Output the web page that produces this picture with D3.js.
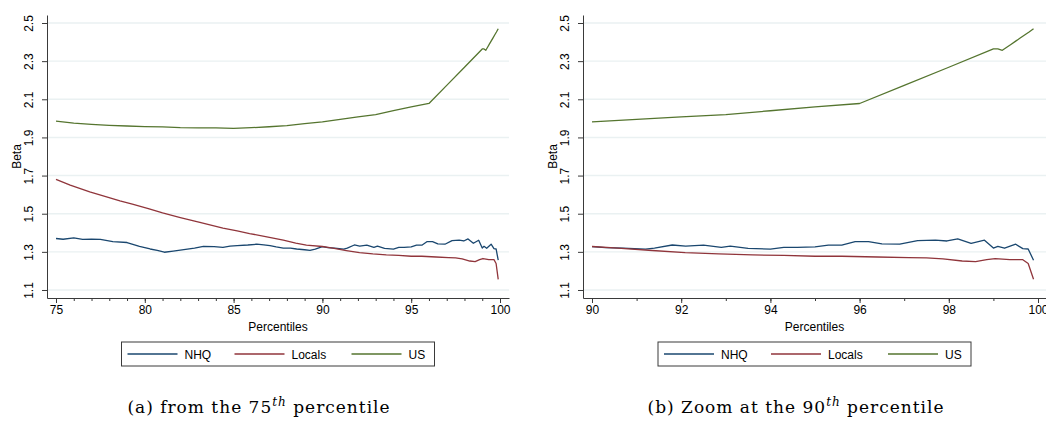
<!DOCTYPE html>
<html>
<head>
<meta charset="utf-8">
<script src="https://cdn.jsdelivr.net/npm/d3@7"></script>
<style>
  body { margin: 0; background: #fff; }
  svg { display: block; }
  .tick text { font-family: "Liberation Sans", Arial, sans-serif; font-size: 12px; fill: #000; }
  .lbl { font-family: "Liberation Sans", Arial, sans-serif; font-size: 12px; fill: #000; }
  .cap { font-family: "DejaVu Serif", "Liberation Serif", serif; font-size: 17px; letter-spacing: 1px; fill: #000; }
</style>
</head>
<body>
<svg width="1046" height="421"></svg>
<script>
// series names + colors (Stata s2color-ish)
var seriesNames = ["NHQ", "Locals", "US"];
var seriesColors = ["#1a476f", "#90353b", "#55752f"];

// NHQ
var nhqPct = [75, 75.4, 76.0, 76.5, 77.0, 77.5, 78.2, 79.0, 79.7, 80.3, 80.7, 81.1, 81.6, 82.2, 82.8, 83.3, 83.9, 84.4, 84.8, 85.2,
  85.8, 86.3, 86.7, 87.05, 87.4, 87.8, 88.2, 88.55, 89.0, 89.3, 89.6, 90.0, 90.3, 90.7, 91.2, 91.4, 91.8, 92.1, 92.5, 92.9,
  93.1, 93.5, 94.0, 94.3, 94.6, 95.0, 95.3, 95.6, 95.9, 96.2, 96.5, 96.9, 97.3, 97.7, 97.96, 98.2, 98.5, 98.8, 99.0, 99.1,
  99.25, 99.5, 99.66, 99.78, 99.9];
var nhqBeta = [1.370, 1.366, 1.373, 1.365, 1.366, 1.365, 1.354, 1.349, 1.329, 1.315, 1.308, 1.298, 1.304, 1.312, 1.320, 1.329, 1.327, 1.324, 1.330, 1.333,
  1.336, 1.340, 1.337, 1.333, 1.326, 1.320, 1.320, 1.315, 1.311, 1.308, 1.314, 1.327, 1.322, 1.320, 1.314, 1.320, 1.336, 1.330, 1.335, 1.323,
  1.330, 1.318, 1.314, 1.323, 1.323, 1.326, 1.335, 1.335, 1.354, 1.354, 1.342, 1.340, 1.359, 1.362, 1.357, 1.368, 1.345, 1.361, 1.320, 1.329,
  1.319, 1.340, 1.317, 1.315, 1.256];

// Locals
var locPct = [75, 75.8, 76.9, 77.8, 78.6, 79.3, 80.2, 81.0, 82.0, 83.1, 84.4, 85.2, 85.9, 86.8, 87.8, 88.5, 89.1, 90.0, 90.58, 91.35,
  92.09, 92.84, 93.6, 94.3, 95.0, 95.6, 96.4, 97.1, 97.5, 97.87, 98.3, 98.6, 98.85, 99.04, 99.37, 99.66, 99.78, 99.9];
var locBeta = [1.680, 1.650, 1.614, 1.590, 1.567, 1.550, 1.527, 1.504, 1.480, 1.454, 1.425, 1.410, 1.396, 1.380, 1.361, 1.346, 1.335, 1.328, 1.320, 1.307,
  1.296, 1.289, 1.284, 1.281, 1.277, 1.277, 1.273, 1.270, 1.268, 1.263, 1.252, 1.249, 1.259, 1.265, 1.259, 1.259, 1.239, 1.156];

// US
var usPct = [75, 76, 77, 78, 79, 80, 81, 82, 83, 84, 85, 86, 87, 88, 89, 90, 91, 92, 93, 94,
  95, 96, 97, 98, 99, 99.1, 99.2, 99.3, 99.4, 99.5, 99.6, 99.7, 99.8, 99.9];
var usBeta = [1.985, 1.975, 1.968, 1.963, 1.960, 1.957, 1.955, 1.951, 1.950, 1.950, 1.948, 1.951, 1.956, 1.962, 1.972, 1.982, 1.995, 2.008, 2.020, 2.040,
  2.060, 2.078, 2.173, 2.268, 2.364, 2.364, 2.357, 2.373, 2.389, 2.405, 2.421, 2.437, 2.453, 2.470];

var yTicks = [1.1, 1.3, 1.5, 1.7, 1.9, 2.1, 2.3, 2.5];
var xTicksA = [75, 80, 85, 90, 95, 100];
var xTicksB = [90, 92, 94, 96, 98, 100];
var captionA = ["(a) from the 75", "th", " percentile"];
var captionB = ["(b) Zoom at the 90", "th", " percentile"];

var series = [
  {name: seriesNames[0], color: seriesColors[0], pts: d3.zip(nhqPct, nhqBeta)},
  {name: seriesNames[1], color: seriesColors[1], pts: d3.zip(locPct, locBeta)},
  {name: seriesNames[2], color: seriesColors[2], pts: d3.zip(usPct, usBeta)}
];

var svg = d3.select("svg");

function panel(opt) {
  var left = opt.left, right = opt.right, top = 15, bottom = 298;
  var x = d3.scaleLinear().domain(opt.xDomain).range([left, right]);
  var y = d3.scaleLinear().domain([1.058, 2.542]).range([bottom, top]);
  var g = svg.append("g");

  // grid lines
  g.selectAll(".grid").data(yTicks).enter().append("line")
    .attr("x1", left).attr("x2", right)
    .attr("y1", function(d) { return y(d); }).attr("y2", function(d) { return y(d); })
    .attr("stroke", "#eaf1f2").attr("stroke-width", 1.4);

  // lines
  var line = d3.line()
    .x(function(d) { return x(d[0]); })
    .y(function(d) { return y(d[1]); });
  series.forEach(function(s) {
    var pts = s.pts.filter(function(d) { return d[0] >= opt.xMin; });
    g.append("path").datum(pts)
      .attr("d", line)
      .attr("fill", "none")
      .attr("stroke", s.color)
      .attr("stroke-width", 1.3)
      .attr("stroke-linejoin", "round");
  });

  // y axis
  var ya = g.append("g").attr("transform", "translate(" + left + ",0)")
    .call(d3.axisLeft(y).tickValues(yTicks).tickSize(5).tickSizeOuter(0).tickFormat(d3.format(".1f")));
  ya.select(".domain").attr("stroke", "#3a3a3a");
  ya.selectAll(".tick line").attr("stroke", "#3a3a3a");
  ya.selectAll(".tick text")
    .attr("x", 0).attr("dy", 0)
    .attr("transform", "translate(-14,0) rotate(-90)")
    .attr("text-anchor", "middle");

  // x axis, minor ticks every 1
  var minor = d3.range(Math.ceil(opt.xMin), 101, 1);
  var xa = g.append("g").attr("transform", "translate(0," + bottom + ")");
  xa.call(d3.axisBottom(x).tickValues(minor).tickSize(3).tickSizeOuter(0).tickFormat(""));
  xa.select(".domain").attr("stroke", "#3a3a3a");
  xa.selectAll(".tick line").attr("stroke", "#3a3a3a");
  var xb = g.append("g").attr("transform", "translate(0," + bottom + ")");
  xb.call(d3.axisBottom(x).tickValues(opt.xTicks).tickSize(5).tickSizeOuter(0).tickPadding(2));
  xb.select(".domain").remove();
  xb.selectAll(".tick line").attr("stroke", "#3a3a3a");

  // axis titles
  g.append("text").attr("class", "lbl")
    .attr("transform", "translate(" + (left - 26) + "," + ((top + bottom) / 2) + ") rotate(-90)")
    .attr("text-anchor", "middle").text("Beta");
  g.append("text").attr("class", "lbl")
    .attr("x", (left + right) / 2).attr("y", 331)
    .attr("text-anchor", "middle").text("Percentiles");

  // legend
  var lw = 313, lx = (left + right) / 2 - lw / 2, ly = 342;
  var leg = g.append("g").attr("transform", "translate(" + lx + "," + ly + ")");
  leg.append("rect").attr("width", lw).attr("height", 24)
    .attr("fill", "#fff").attr("stroke", "#3a3a3a").attr("stroke-width", 1);
  var offs = [6, 113, 230];
  series.forEach(function(s, i) {
    leg.append("line").attr("x1", offs[i]).attr("x2", offs[i] + 50)
      .attr("y1", 12).attr("y2", 12).attr("stroke", s.color).attr("stroke-width", 1.3);
    leg.append("text").attr("class", "lbl").attr("x", offs[i] + 57).attr("y", 16.5).text(s.name);
  });

  // caption
  var cap = svg.append("text").attr("class", "cap")
    .attr("x", opt.capX).attr("y", 413).attr("text-anchor", "middle");
  cap.append("tspan").text(opt.caption[0]);
  cap.append("tspan").attr("dy", -7).attr("font-size", "12px").attr("font-style", "italic").text(opt.caption[1]);
  cap.append("tspan").attr("dy", 7).text(opt.caption[2]);
}

panel({left: 47, right: 509, xDomain: [75 - 9 / 17.76, 100 + 9 / 17.76], xMin: 75, xTicks: xTicksA, caption: captionA, capX: 259});
panel({left: 583, right: 1046, xDomain: [90 - 9 / 44.6, 100 + 8 / 44.6], xMin: 90, xTicks: xTicksB, caption: captionB, capX: 796});
</script>
</body>
</html>
